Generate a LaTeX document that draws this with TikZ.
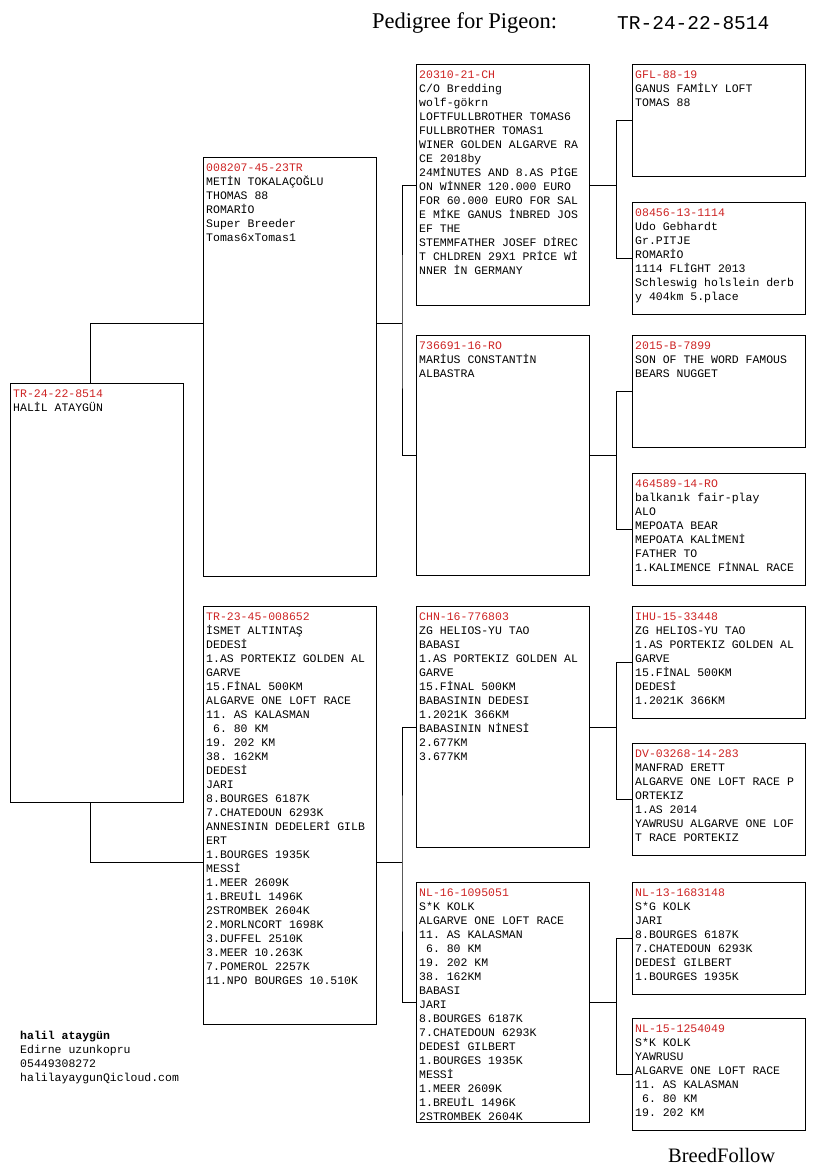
\documentclass[tikz,border=0pt]{standalone}
\usepackage{fontspec}
\setmainfont{Liberation Serif}
\setmonofont{Liberation Mono}
\definecolor{ringred}{RGB}{205,35,35}
\newcommand\ringno[1]{\textcolor{ringred}{#1}}
\begin{document}
\begin{tikzpicture}[x=1pt,y=-1pt,
      card/.style={draw=black, line width=0.8pt, anchor=north west, inner sep=0pt, minimum width=173pt},
      entry/.style={anchor=north west, align=left, inner xsep=3pt, inner ysep=6.5pt,
        font=\ttfamily\fontsize{11.5}{14}\selectfont},
      link/.style={draw=black, line width=0.8pt}
    ]
    \useasboundingbox (0,0) rectangle (825,1172);

    \node[anchor=west, inner sep=0pt, font=\fontsize{22.5}{26}\selectfont] (title) at (372,23) {Pedigree for Pigeon:};
    \node[anchor=west, inner sep=0pt, font=\ttfamily\fontsize{19.5}{22}\selectfont] (titleid) at (617,23) {TR-24-22-8514};

    % generation 0 and 1
    \node[card, minimum height=419pt] (root) at (10,383) {};
    \node[card, minimum height=419pt] (sire) at (203,157) {};
    \node[card, minimum height=418pt] (dam) at (203,606) {};

    % generation 2
    \node[card, minimum height=241pt] (ss) at (416,64) {};
    \node[card, minimum height=240pt] (sd) at (416,335) {};
    \node[card, minimum height=241pt] (ds) at (416,606) {};
    \node[card, minimum height=240pt] (dd) at (416,882) {};

    % generation 3
    \node[card, minimum height=112pt] (sss) at (632,64) {};
    \node[card, minimum height=112pt] (ssd) at (632,202) {};
    \node[card, minimum height=112pt] (sds) at (632,335) {};
    \node[card, minimum height=112pt] (sdd) at (632,473) {};
    \node[card, minimum height=112pt] (dss) at (632,606) {};
    \node[card, minimum height=112pt] (dsd) at (632,743) {};
    \node[card, minimum height=112pt] (dds) at (632,882) {};
    \node[card, minimum height=112pt] (ddd) at (632,1018) {};

    \node[entry] at (root.north west) {\ringno{TR-24-22-8514}\\HALİL ATAYGÜN};
    \node[entry] at (sire.north west) {\ringno{008207-45-23TR}\\METİN TOKALAÇOĞLU\\THOMAS 88\\ROMARİO\\Super Breeder\\Tomas6xTomas1};
    \node[entry] at (dam.north west) {\ringno{TR-23-45-008652}\\İSMET ALTINTAŞ\\DEDESİ\\1.AS PORTEKIZ GOLDEN AL\\GARVE\\15.FİNAL 500KM\\ALGARVE ONE LOFT RACE\\11. AS KALASMAN\\\ 6. 80 KM\\19. 202 KM\\38. 162KM\\DEDESİ\\JARI\\8.BOURGES 6187K\\7.CHATEDOUN 6293K\\ANNESININ DEDELERİ GILB\\ERT\\1.BOURGES 1935K\\MESSİ\\1.MEER 2609K\\1.BREUİL 1496K\\2STROMBEK 2604K\\2.MORLNCORT 1698K\\3.DUFFEL 2510K\\3.MEER 10.263K\\7.POMEROL 2257K\\11.NPO BOURGES 10.510K};

    \node[entry] at (ss.north west) {\ringno{20310-21-CH}\\C/O Bredding\\wolf-gökrn\\LOFTFULLBROTHER TOMAS6\\FULLBROTHER TOMAS1\\WINER GOLDEN ALGARVE RA\\CE 2018by\\24MİNUTES AND 8.AS PİGE\\ON WİNNER 120.000 EURO\\FOR 60.000 EURO FOR SAL\\E MİKE GANUS İNBRED JOS\\EF THE\\STEMMFATHER JOSEF DİREC\\T CHLDREN 29X1 PRİCE Wİ\\NNER İN GERMANY};
    \node[entry] at (sd.north west) {\ringno{736691-16-RO}\\MARİUS CONSTANTİN\\ALBASTRA};
    \node[entry] at (ds.north west) {\ringno{CHN-16-776803}\\ZG HELIOS-YU TAO\\BABASI\\1.AS PORTEKIZ GOLDEN AL\\GARVE\\15.FİNAL 500KM\\BABASININ DEDESI\\1.2021K 366KM\\BABASININ NİNESİ\\2.677KM\\3.677KM};
    \node[entry] at (dd.north west) {\ringno{NL-16-1095051}\\S*K KOLK\\ALGARVE ONE LOFT RACE\\11. AS KALASMAN\\\ 6. 80 KM\\19. 202 KM\\38. 162KM\\BABASI\\JARI\\8.BOURGES 6187K\\7.CHATEDOUN 6293K\\DEDESİ GILBERT\\1.BOURGES 1935K\\MESSİ\\1.MEER 2609K\\1.BREUİL 1496K\\2STROMBEK 2604K};

    \node[entry] at (sss.north west) {\ringno{GFL-88-19}\\GANUS FAMİLY LOFT\\TOMAS 88};
    \node[entry] at (ssd.north west) {\ringno{08456-13-1114}\\Udo Gebhardt\\Gr.PITJE\\ROMARİO\\1114 FLİGHT 2013\\Schleswig holslein derb\\y 404km 5.place};
    \node[entry] at (sds.north west) {\ringno{2015-B-7899}\\SON OF THE WORD FAMOUS\\BEARS NUGGET};
    \node[entry] at (sdd.north west) {\ringno{464589-14-RO}\\balkanık fair-play\\ALO\\MEPOATA BEAR\\MEPOATA KALİMENİ\\FATHER TO\\1.KALIMENCE FİNNAL RACE};
    \node[entry] at (dss.north west) {\ringno{IHU-15-33448}\\ZG HELIOS-YU TAO\\1.AS PORTEKIZ GOLDEN AL\\GARVE\\15.FİNAL 500KM\\DEDESİ\\1.2021K 366KM};
    \node[entry] at (dsd.north west) {\ringno{DV-03268-14-283}\\MANFRAD ERETT\\ALGARVE ONE LOFT RACE P\\ORTEKIZ\\1.AS 2014\\YAWRUSU ALGARVE ONE LOF\\T RACE PORTEKIZ};
    \node[entry] at (dds.north west) {\ringno{NL-13-1683148}\\S*G KOLK\\JARI\\8.BOURGES 6187K\\7.CHATEDOUN 6293K\\DEDESİ GILBERT\\1.BOURGES 1935K};
    \node[entry] at (ddd.north west) {\ringno{NL-15-1254049}\\S*K KOLK\\YAWRUSU\\ALGARVE ONE LOFT RACE\\11. AS KALASMAN\\\ 6. 80 KM\\19. 202 KM};

    % connectors
    \coordinate (rs) at (90,323);
    \coordinate (rd) at (90,862);
    \draw[link] (root.north -| rs) -- (rs) -- (sire.west |- rs);
    \draw[link] (root.south -| rd) -- (rd) -- (dam.west |- rd);

    \coordinate (sj) at (402,323);
    \coordinate (dj) at (402,862);
    \draw[link] (sire.east |- sj) -- (sj);
    \draw[link] (ss.west) -| (sj) |- (sd.west);
    \draw[link] (dam.east |- dj) -- (dj);
    \draw[link] (ds.west) -| (dj) |- (dd.west);

    \draw[link] (ss.east) -- ++(27,0) coordinate (ssj);
    \draw[link] (sss.west) -| (ssj) |- (ssd.west);
    \draw[link] (sd.east) -- ++(27,0) coordinate (sdj);
    \draw[link] (sds.west) -| (sdj) |- (sdd.west);
    \draw[link] (ds.east) -- ++(27,0) coordinate (dsj);
    \draw[link] (dss.west) -| (dsj) |- (dsd.west);
    \draw[link] (dd.east) -- ++(27,0) coordinate (ddj);
    \draw[link] (dds.west) -| (ddj) |- (ddd.west);

    \node[entry, inner ysep=0pt, inner xsep=0pt] (owner) at (20,1031) {\textbf{halil ataygün}\\Edirne uzunkopru\\05449308272\\halilayaygunQicloud.com};
    \node[anchor=west, inner sep=0pt, font=\fontsize{20.5}{24}\selectfont] (brand) at (668,1155) {BreedFollow};

  \end{tikzpicture}
\end{document}
